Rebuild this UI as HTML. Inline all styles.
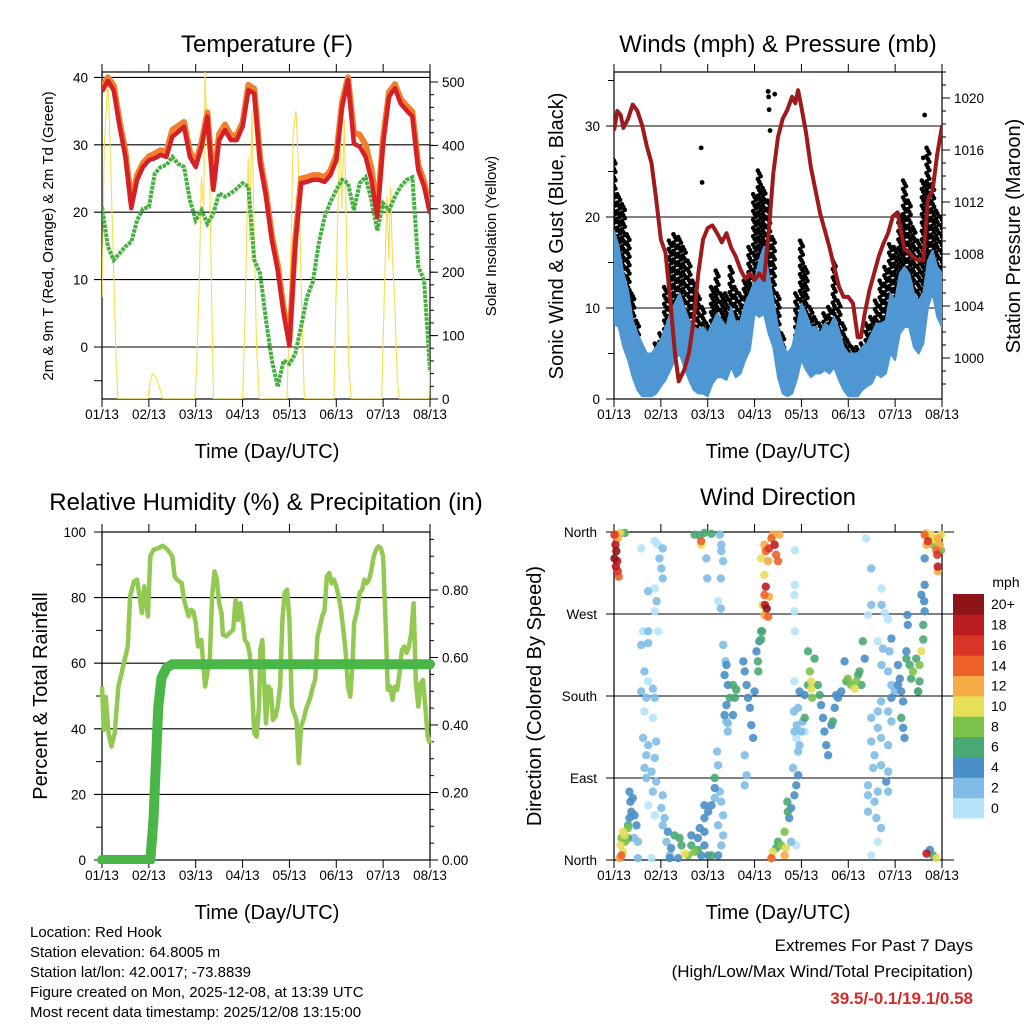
<!DOCTYPE html>
<html><head><meta charset="utf-8">
<style>
html,body{margin:0;padding:0;background:#fff;}
svg{display:block;font-family:"Liberation Sans",sans-serif;}
</style></head>
<body>
<svg id="fig" width="1024" height="1024" viewBox="0 0 1024 1024" xmlns="http://www.w3.org/2000/svg">
<defs>
<clipPath id="cT"><rect x="102" y="72" width="328" height="327"/></clipPath>
<clipPath id="cW"><rect x="614" y="72" width="328" height="327"/></clipPath>
<clipPath id="cR"><rect x="96" y="528" width="340" height="336"/></clipPath>
<clipPath id="cD"><rect x="608" y="526" width="340" height="340"/></clipPath>
</defs>
<g id="titles">
<text x="267" y="52" font-size="24" text-anchor="middle">Temperature (F)</text>
<text x="778" y="52" font-size="24" text-anchor="middle">Winds (mph) &amp; Pressure (mb)</text>
<text x="266" y="510" font-size="24" text-anchor="middle">Relative Humidity (%) &amp; Precipitation (in)</text>
<text x="778" y="505" font-size="24" text-anchor="middle">Wind Direction</text>
<text x="267" y="458" font-size="20" text-anchor="middle">Time (Day/UTC)</text>
<text x="778" y="458" font-size="20" text-anchor="middle">Time (Day/UTC)</text>
<text x="267" y="919" font-size="20" text-anchor="middle">Time (Day/UTC)</text>
<text x="778" y="919" font-size="20" text-anchor="middle">Time (Day/UTC)</text>
<text transform="translate(53,236) rotate(-90)" font-size="15" text-anchor="middle">2m &amp; 9m T (Red, Orange) &amp; 2m Td (Green)</text>
<text transform="translate(496,236) rotate(-90)" font-size="15" text-anchor="middle">Solar Insolation (Yellow)</text>
<text transform="translate(563,236) rotate(-90)" font-size="20" text-anchor="middle">Sonic Wind &amp; Gust (Blue, Black)</text>
<text transform="translate(1020,236) rotate(-90)" font-size="20" text-anchor="middle">Station Pressure (Maroon)</text>
<text transform="translate(47,696) rotate(-90)" font-size="20" text-anchor="middle">Percent &amp; Total Rainfall</text>
<text transform="translate(541,696) rotate(-90)" font-size="20" text-anchor="middle">Direction (Colored By Speed)</text>
</g>
<g font-size="15">
<text x="30" y="937">Location: Red Hook</text>
<text x="30" y="957">Station elevation: 64.8005 m</text>
<text x="30" y="977">Station lat/lon: 42.0017; -73.8839</text>
<text x="30" y="997">Figure created on Mon, 2025-12-08, at 13:39 UTC</text>
<text x="30" y="1017">Most recent data timestamp: 2025/12/08 13:15:00</text>
</g>
<g text-anchor="end" font-size="17">
<text x="973" y="951">Extremes For Past 7 Days</text>
<text x="973" y="977">(High/Low/Max Wind/Total Precipitation)</text>
<text x="973" y="1004" fill="#d42a2a" font-weight="bold">39.5/-0.1/19.1/0.58</text>
</g>
<g id="layer"></g>
</svg>
<script>
// ---------- DATA ----------
const dayLabels = ["01/13","02/13","03/13","04/13","05/13","06/13","07/13","08/13"];
const tempStep = 0.125;
const tempRed = [37.9,39.5,38.1,32.7,28.2,20.6,24.8,26.7,27.7,28,28.5,28.2,31.2,31.9,32.7,28.2,26.7,29.7,34.2,23.3,30.7,32.2,30.7,30.7,32.7,38.1,37.6,27.2,22.3,15.8,11.4,5,0.2,15.3,24.3,24.5,24.8,24.8,24.5,25.5,27.7,35.6,39.6,30.2,29.7,28.2,24.8,19.3,30.2,37.1,38.4,36.1,35.1,34.2,26.2,23.8,19.8];
const tempOrange = [38.6,40,38.8,33.5,29,21.5,25.5,27.3,28.3,28.7,29.2,29,32.2,32.8,33.4,29,27.4,30.4,34.8,24,31.6,33,31.4,31.4,33.3,38.9,38.3,28,23,16.5,12.2,5.8,1,16,25,25.2,25.5,25.5,25.2,26.2,28.5,36.4,40,31.8,31.5,30,26.5,20.2,31,37.8,39,36.8,35.8,34.9,27,24.6,20.3];
const dewGreen = [20.8,14.9,12.9,13.9,14.9,15.6,18.8,20.5,20.8,25.7,26.7,27,28.2,27.2,26.7,21.8,18.8,20.3,18.3,19.8,22.8,22.3,22.8,23.5,24.3,23.8,12.9,10.9,4,-2,-5.9,-2,-2.5,-1,3,7.4,9.7,15.3,19.3,21.5,23.3,24.8,24.3,20.3,24.3,25.2,21.8,17.3,21.3,20.3,22.3,23.8,24.8,25.2,11.9,9.9,-3.5];
const solarTime = [0,0.05,0.1,0.13,0.16,0.2,0.25,0.3,0.34,0.98,1.03,1.08,1.15,1.22,1.3,1.98,2.02,2.08,2.12,2.17,2.2,2.24,2.28,2.33,2.38,3.0,3.06,3.12,3.15,3.2,3.25,3.3,3.36,3.95,4.02,4.08,4.14,4.2,4.26,4.32,4.95,5.02,5.08,5.12,5.17,5.22,5.27,5.32,5.97,6.02,6.08,6.12,6.16,6.2,6.25,6.3,6.35,6.98,7.0];
const solarValue = [160,400,470,500,430,330,200,60,0,0,30,40,35,20,0,0,50,200,350,300,520,400,450,200,0,0,150,380,250,455,250,80,0,0,200,420,455,350,150,0,0,250,440,300,440,250,50,0,0,150,320,220,335,220,150,30,0,0,60];
const windStep = 0.1;
const windHigh = [18.5,16.7,13.8,11.9,8.6,7.2,6.1,5,5,5.7,6.5,7.9,9.4,10.5,11.6,10.1,8.6,7.9,7.6,7.9,7.2,8.3,9.4,8.6,7.9,10.1,8.3,8.6,10.5,11.6,13,15.2,16.7,13.8,10.8,7.9,6.1,5,5.7,7.9,10.5,9.4,7.9,7.9,7.2,8.3,7.9,9,7.6,5.7,5,5,5,5.7,6.1,7.2,8.3,8.3,8.6,11.6,10.8,13.8,14.5,13.8,11.6,10.8,11.6,15.2,16.3,14.5,13.8];
const windLow = [8.3,7.9,5.7,4.3,2.4,1,0.3,0.3,0.3,0.6,1.4,2.1,3.2,4.3,5,3.5,2.1,1,0.6,0.6,0.3,1.7,2.4,2.4,2.1,3.5,2.4,2.8,4.3,5.4,9.4,9,9.4,7.2,5.7,2.4,0.6,0.3,0.6,2.1,4.3,3.2,2.4,2.8,2.8,3.2,2.8,3.5,2.1,1,0.3,0.3,0.3,1,1.4,1.7,2.8,2.4,2.8,5,4.3,7.2,7.9,7.9,5.7,5,6.1,10.1,11.6,9,7.9];
const gustHigh = [26.5,22.5,21.4,18.1,11.6,8.6,4.3,3.5,4.3,6.1,7.2,12.3,17.4,18.1,17.8,16.7,15.2,13,11.6,10.1,8.3,12.3,14.1,11.6,11.6,14.5,12.3,11.6,13,16.7,22.5,25.1,23.2,21.8,17.8,11.6,7.2,3.5,5,11.6,17.4,14.5,10.1,9,8.3,9.4,10.1,15.2,10.8,8.3,6.5,5.7,5.7,6.1,8.3,9,10.8,13,14.5,17,16.7,20.3,24,21.8,18.9,17.4,24,27.6,23.6,20.7,20];
const gustOutTime = [1.86,1.88,3.29,3.3,3.43,3.31,3.33,6.63,6.6];
const gustOutValue = [27.6,23.8,33.8,33.2,33.5,31.8,29.5,31.2,26.5];
const presTime = [0,0.07,0.14,0.2,0.3,0.4,0.5,0.6,0.7,0.8,0.9,1.0,1.1,1.2,1.3,1.38,1.5,1.6,1.7,1.8,1.9,2.0,2.1,2.2,2.3,2.4,2.5,2.6,2.7,2.8,2.9,3.0,3.1,3.2,3.3,3.4,3.5,3.6,3.7,3.8,3.87,3.93,4.0,4.1,4.2,4.3,4.4,4.5,4.6,4.7,4.8,4.9,5.0,5.1,5.2,5.27,5.35,5.45,5.55,5.65,5.75,5.85,5.95,6.05,6.12,6.2,6.3,6.4,6.5,6.6,6.7,6.8,6.9,7.0];
const presValue = [1017.5,1019,1018.7,1017.7,1018.4,1019.5,1019,1017.9,1016.3,1015,1012.2,1009.1,1008.1,1004.5,1000.4,998.2,999.1,1000.4,1002.9,1006.5,1009.1,1010,1010.2,1009.6,1008.9,1009.6,1008.5,1007.8,1006.8,1006.1,1006.5,1006,1006.5,1006,1009.6,1014.2,1017,1018.4,1019.1,1020.1,1019.6,1020.6,1019.3,1017.3,1014.7,1012.9,1011.1,1009.8,1008.5,1007,1005.5,1004.7,1004.7,1004.2,1001.6,1001.6,1003.4,1005.2,1006.5,1007.8,1008.8,1009.6,1010.9,1011.2,1009.8,1008.4,1008.1,1007.7,1007.5,1007.5,1012.2,1012.9,1015.7,1017.8];
const rhTime = [0,0.04,0.08,0.14,0.2,0.27,0.35,0.45,0.55,0.6,0.68,0.75,0.8,0.85,0.9,0.98,1.03,1.1,1.2,1.3,1.4,1.5,1.55,1.6,1.7,1.75,1.8,1.85,1.9,1.95,2.0,2.05,2.12,2.2,2.26,2.3,2.35,2.4,2.45,2.5,2.55,2.58,2.65,2.72,2.8,2.85,2.9,2.95,3.0,3.05,3.1,3.15,3.2,3.25,3.3,3.35,3.38,3.42,3.45,3.5,3.55,3.6,3.65,3.7,3.75,3.8,3.85,3.9,3.95,4.0,4.05,4.1,4.15,4.2,4.25,4.3,4.35,4.4,4.45,4.5,4.55,4.6,4.65,4.7,4.75,4.8,4.85,4.9,4.95,5.0,5.05,5.1,5.15,5.2,5.25,5.3,5.35,5.38,5.45,5.5,5.55,5.6,5.65,5.7,5.75,5.8,5.85,5.9,5.95,6.0,6.05,6.1,6.15,6.2,6.25,6.3,6.35,6.4,6.45,6.5,6.55,6.6,6.65,6.7,6.75,6.8,6.85,6.9,6.95,7.0];
const rhValue = [52.9,39.7,49.8,38.7,34.6,38.7,52.9,59,65.1,80.4,84.9,85.5,80.4,75.3,83.4,74.3,92.6,94.6,95.1,95.8,94.6,92.6,86.5,85.5,84.4,79.3,76.8,74.3,76.3,75.8,72.2,65.1,67.1,52.9,58,61,80.4,88,85.5,78.3,75.3,68.7,68.2,69.2,70.2,79.3,73.2,78.3,73.2,67.1,66.1,63.1,52.9,38.7,37.6,46.8,64.1,67.1,57,41.7,52.9,51.9,42.7,43.7,46.8,52.9,73.2,81.4,82.4,73.2,46.8,44.8,42.7,29.5,40.7,42.7,45.8,47.8,49.8,52.9,54.9,68.2,71.2,74.3,76.3,86.5,87.5,84.4,85.5,83.4,80.4,76.3,70.2,63.1,52.9,49.8,61,72.2,76.3,81.4,82.4,85.5,84.4,85.5,88.5,92.6,94.6,95.6,95.1,92.6,73.2,51.9,52.9,48.8,52.9,51.9,57,64.1,65.1,63.1,65.1,69.2,78.3,53.9,46.8,53.9,54.9,46.8,37.6,35.6];
const precipTime = [0,1.03,1.1,1.2,1.27,1.38,1.5,7.0];
const precipValue = [0,0,0.12,0.45,0.54,0.57,0.58,0.58];
const speedBins = ["0","2","4","6","8","10","12","14","16","18","20+"];
const speedColors = ["#b5e3f8","#80bce5","#4a8fc8","#4aa873","#7bc24b","#e6df5a","#f7ab45","#ee622a","#da3428","#bb1c22","#8d1519"];
// wind direction observations: [day, degrees, speed mph]
const windDirObs = [
[0.01,357,16],[0.03,346,18],[0.05,339,20],[0.01,331,20],[0.07,328,18],[0.04,322,18],[0.08,317,16],[0.1,311,14],[0.06,357,12],[0.12,359,10],[0.16,359,8],[0.23,359,6],[0.08,353,12],
[0.12,2,12],[0.16,5,14],[0.19,9,10],[0.14,16,10],[0.16,24,8],[0.23,27,10],[0.3,35,8],[0.19,31,10],[0.3,38,6],[0.24,20,8],[0.3,24,6],[0.33,46,4],[0.37,53,4],[0.35,64,4],[0.33,75,4],[0.4,68,4],[0.44,49,4],[0.48,38,4],[0.43,24,2],[0.51,20,2],[0.51,2,2],
[0.58,342,0],[0.87,350,0],[0.94,346,0],[1.04,342,2],[0.97,331,2],[1.01,320,2],[1.04,309,2],[0.87,298,0],[0.73,295,2],[0.91,284,2],[0.87,273,0],[0.62,251,0],[0.73,251,2],[0.94,251,0],[0.58,236,2],[0.73,238,2],[0.65,207,2],[0.73,196,0],[0.83,188,2],[0.58,185,2],[0.69,178,2],[0.87,178,2],[0.65,163,0],[0.83,156,0],[0.62,134,2],[0.73,126,2],[0.9,130,2],[0.69,115,2],[0.87,112,2],[0.65,101,2],[0.8,97,2],[0.69,90,2],[0.9,86,2],[0.83,75,2],[1.04,71,2],[0.73,60,0],[0.87,49,0],[1.01,57,2],[1.08,46,2],[1.04,38,2],[1.15,31,4],[1.12,20,2],[1.22,13,4],[1.19,5,2],[0.8,2,0],
[1.29,27,6],[1.4,24,6],[1.44,16,6],[1.51,7,10],[1.58,5,8],[1.65,16,6],[1.72,9,8],[1.79,11,6],[1.86,5,4],[1.93,16,4],[2.01,5,4],[2.08,5,6],[1.65,27,4],[1.79,24,4],[1.93,31,4],[1.93,46,4],[2.01,53,4],[2.08,60,4],[2.15,68,2],[2.15,79,4],[2.26,75,2],[2.29,64,2],[2.33,49,2],[2.22,38,2],[2.33,27,2],[2.29,16,2],[2.22,5,4],[1.37,2,4],[1.19,2,4],[1.93,60,4],[1.83,35,4],[2.15,90,6],[2.2,119,2],[2.22,104,2],
[1.72,357,6],[1.83,356,6],[1.86,350,14],[1.86,346,10],[1.93,359,6],[2.08,358,6],
[1.97,331,2],[1.99,309,2],[2.26,357,2],[2.29,346,2],[2.29,339,2],[2.33,328,2],[2.28,309,2],[2.22,284,0],[2.28,276,2],
[2.33,236,2],[2.4,214,4],[2.36,203,4],[2.43,192,4],[2.54,192,6],[2.61,187,6],[2.58,178,6],[2.47,178,6],[2.4,170,4],[2.36,159,4],[2.43,150,2],[2.54,159,4],[2.76,218,4],[2.79,207,4],[2.83,192,4],[2.86,178,4],[2.9,167,4],[2.93,148,4],[2.97,134,4],[3.0,185,4],[3.04,229,4],[3.07,218,6],[3.08,207,6],[3.1,240,4],[3.14,251,6],[2.38,218,2],[2.4,152,2],[2.43,141,2],[2.79,115,2],[2.83,93,2],[2.79,82,2],
[3.14,331,10],[3.21,346,12],[3.24,339,14],[3.31,342,16],[3.36,353,14],[3.43,346,18],[3.46,335,14],[3.5,328,14],[3.39,357,12],[3.53,357,12],[3.29,328,12],[3.21,313,10],[3.24,300,18],[3.21,291,14],[3.17,280,10],[3.22,280,18],[3.26,276,20],[3.29,267,14],[3.21,269,12],[3.31,289,12],[3.16,251,6],[3.14,242,6],
[3.36,2,14],[3.39,9,10],[3.46,13,6],[3.5,20,6],[3.57,16,8],[3.64,31,8],[3.67,13,10],[3.64,5,12],[3.71,53,6],[3.7,64,6],[3.74,46,4],[3.78,57,4],[3.85,71,4],[3.89,82,4],[3.93,93,4],[3.82,101,2],[3.93,119,2],[3.96,126,2],[3.89,134,0],[3.85,141,2],[3.84,163,2],[3.93,167,2],[3.96,185,4],[3.85,196,0],[3.86,251,0],[3.85,273,0],[3.85,291,0],[3.86,302,0],[3.86,340,0],[3.78,20,2],[3.89,16,0],[3.36,2,10],
[4.07,181,4],[4.14,192,6],[4.14,229,6],[4.18,207,8],[4.21,196,10],[4.21,188,10],[4.23,178,8],[4.28,221,6],[4.35,192,6],[4.39,181,6],[4.07,156,6],[4.42,170,4],[4.46,156,4],[4.49,141,4],[4.53,126,4],[4.57,115,4],[4.64,148,4],[4.67,152,6],[4.71,167,4],[4.74,181,4],[4.78,178,4],[4.85,185,4],[4.92,218,4],[4.96,196,6],[4.99,199,8],[5.06,192,8],[5.14,188,10],[5.17,196,8],[5.21,203,6],[5.24,207,6],[5.28,192,6],[5.31,240,6],[5.35,221,4],[4.03,152,2],[4.0,141,2],[4.07,141,0],[3.9,148,2],
[5.38,353,0],[5.49,320,2],[5.71,298,0],[5.49,280,2],[5.71,280,2],[5.42,269,0],[5.78,271,0],[5.85,264,0],[5.63,240,0],[5.74,232,2],[5.92,243,4],[5.88,229,2],[5.71,214,2],[5.85,207,2],[5.92,192,2],[5.99,185,2],[5.7,174,2],[5.49,156,2],[5.63,163,2],[5.85,163,2],[5.92,152,2],[5.63,145,2],[5.49,130,2],[5.7,134,2],[5.85,126,2],[5.56,115,2],[5.7,104,2],[5.53,101,2],[5.85,97,2],[5.81,86,4],[5.42,82,2],[5.63,75,2],[5.85,75,2],[5.42,53,2],[5.6,46,2],[5.7,35,2],[5.63,20,0],[5.49,5,0],[5.42,71,2],[5.56,64,2],
[6.06,214,4],[6.1,199,4],[6.13,185,4],[6.17,174,4],[6.13,156,6],[6.17,145,4],[6.2,134,4],[6.24,229,4],[6.27,258,4],[6.26,269,4],[6.24,221,6],[6.31,214,6],[6.34,199,6],[6.38,207,8],[6.45,221,6],[6.52,214,8],[6.56,229,10],[6.52,196,6],[6.49,185,6],[6.6,242,6],[6.6,258,6],[6.56,291,4],[6.63,273,4],[6.62,284,4],[6.63,302,4],[6.63,331,4],[6.49,185,4],[6.06,192,4],[5.92,178,4],
[6.63,357,14],[6.67,346,12],[6.7,350,16],[6.74,353,8],[6.77,357,10],[6.84,352,10],[6.91,353,12],[6.95,346,12],[6.88,340,14],[6.9,335,16],[6.91,322,18],[6.91,317,12],[6.81,346,8],[6.98,357,10],[6.98,340,8],[6.67,359,10],
[6.67,7,18],[6.74,11,4],[6.81,5,6],[6.88,2,10]
];
</script>
<script>
(function(){
const NS="http://www.w3.org/2000/svg";
const layer=document.getElementById('layer');
function el(tag,attrs,parent){const e=document.createElementNS(NS,tag);for(const k in attrs)e.setAttribute(k,attrs[k]);(parent||layer).appendChild(e);return e;}
const PW=328, DAYPX=328/7;
const xTemp=t=>102+t*DAYPX, xWind=t=>614+t*DAYPX;
const yTemp=v=>347-v*6.74;
const ySolar=v=>399-v*0.634;
const yWind=v=>399-v*9.1;
const yPres=p=>98+(1020-p)*13;
const yRH=v=>860-v*3.28;
const yPrecip=v=>860-v*337.5;
const yDir=d=>860-d*328/360;

function frame(left,top,bottom,name){
  const g=el('g',{});
  
  
  el('rect',{x:left,y:top,width:PW,height:bottom-top,fill:'none',stroke:'#000','stroke-width':1.2},g);
  dayLabels.forEach((lab,i)=>{
    const x=left+i*DAYPX;
    el('line',{x1:x,x2:x,y1:top-8,y2:top,stroke:'#000','stroke-width':1},g);
    el('line',{x1:x,x2:x,y1:bottom,y2:bottom+8,stroke:'#000','stroke-width':1},g);
    const t=el('text',{x:x,y:bottom+20,'font-size':13.5,'text-anchor':'middle'},g);
    t.textContent=lab;
    
    
  });
  return g;
}
function hGrid(g,left,y,labelL,labelX){
  el('line',{x1:left-8,x2:left+PW,y1:y,y2:y,stroke:'#000','stroke-width':1.1},g);
  if(labelL!==null){const t=el('text',{x:labelX,y:y+5,'font-size':13.5,'text-anchor':'end'},g);t.textContent=labelL;
    
    }
}
function rTicks(g,right,vals,yf,fmt,minorVals){
  minorVals.forEach(v=>{const y=yf(v);el('line',{x1:right,x2:right+4,y1:y,y2:y,stroke:'#000'},g);});
  vals.forEach(v=>{const y=yf(v);el('line',{x1:right,x2:right+8,y1:y,y2:y,stroke:'#000'},g);
    const t=el('text',{x:right+12,y:y+5,'font-size':13.5},g);t.textContent=fmt(v);
    
    });
}
function pathFrom(xs,ys){return xs.map((x,i)=>(i?'L':'M')+x.toFixed(1)+' '+ys[i].toFixed(1)).join('');}
const range=(n,f)=>Array.from({length:n},(_,i)=>f(i));

// ---------- Panel 1: Temperature ----------
let g=frame(102,72,399,'temperature-panel');
[40,30,20,10,0].forEach(v=>hGrid(g,102,yTemp(v),String(v),88));
el('line',{x1:94,x2:102,y1:yTemp(-5),y2:yTemp(-5),stroke:'#000'},g);
rTicks(g,430,[0,100,200,300,400,500],ySolar,v=>String(v),range(26,i=>i*20));
let pg=el('g',{'clip-path':'url(#cT)'});


let p=el('path',{d:pathFrom(solarTime.map(xTemp),solarValue.map(ySolar)),fill:'none',stroke:'#f7de4a','stroke-width':1.1},pg);


p=el('path',{d:pathFrom(dewGreen.map((v,i)=>xTemp(i*tempStep)),dewGreen.map(yTemp)),fill:'none',stroke:'#45b040','stroke-width':4,'stroke-dasharray':'3.5 1'},pg);


p=el('path',{d:pathFrom(tempOrange.map((v,i)=>xTemp(i*tempStep)),tempOrange.map(yTemp)),fill:'none',stroke:'#f27f2c','stroke-width':6,'stroke-linejoin':'round'},pg);


p=el('path',{d:pathFrom(tempRed.map((v,i)=>xTemp(i*tempStep)),tempRed.map(yTemp)),fill:'none',stroke:'#d42027','stroke-width':4.5,'stroke-linejoin':'round'},pg);



// ---------- Panel 2: Winds ----------
g=frame(614,72,399,'winds-panel');
[30,20,10].forEach(v=>hGrid(g,614,yWind(v),String(v),600));
hGrid(g,614,yWind(0),'0',600);
[5,15,25,35].forEach(v=>el('line',{x1:608,x2:614,y1:yWind(v),y2:yWind(v),stroke:'#000'},g));
rTicks(g,942,[1000,1004,1008,1012,1016,1020],yPres,v=>String(v),range(25,i=>998+i));
pg=el('g',{'clip-path':'url(#cW)'});


gustHigh.forEach((gv,i)=>{
  const x=xWind(i*windStep);
  const yTop=yWind(gv), yBot=yWind(Math.max(windLow[i],windHigh[i]-3));
  let k=0;
  for(let y=yTop;y<=yBot;y+=2.8){
    const c=el('circle',{cx:x+((k%3)-1)*1.4,cy:y,r:2.3,fill:'#000'},pg);
    
    
    k++;
  }
});
gustOutTime.forEach((t,i)=>{
  const c=el('circle',{cx:xWind(t),cy:yWind(gustOutValue[i]),r:2.4,fill:'#000'},pg);
  
  
});
const bandTop=windHigh.map((v,i)=>xWind(i*windStep).toFixed(1)+','+yWind(v).toFixed(1));
const bandBot=windLow.map((v,i)=>xWind(i*windStep).toFixed(1)+','+yWind(v).toFixed(1)).reverse();
p=el('polygon',{points:bandTop.concat(bandBot).join(' '),fill:'#4f97d2',stroke:'#4f97d2','stroke-width':2,'stroke-linejoin':'round'},pg);


p=el('path',{d:pathFrom(presTime.map(xWind),presValue.map(yPres)),fill:'none',stroke:'#9d1b1e','stroke-width':4,'stroke-linejoin':'round'},pg);



// ---------- Panel 3: RH & Precip ----------
g=frame(102,532,860,'humidity-panel');
[100,80,60,40,20,0].forEach(v=>hGrid(g,102,yRH(v),String(v),86));
[90,70,50,30,10].forEach(v=>el('line',{x1:96,x2:102,y1:yRH(v),y2:yRH(v),stroke:'#000'},g));
rTicks(g,430,[0,0.2,0.4,0.6,0.8],yPrecip,v=>v.toFixed(2),range(20,i=>i*0.05));
pg=el('g',{'clip-path':'url(#cR)'});


p=el('path',{d:pathFrom(rhTime.map(xTemp),rhValue.map(yRH)),fill:'none',stroke:'#93c952','stroke-width':4.5,'stroke-linejoin':'round'},pg);


p=el('path',{d:pathFrom(precipTime.map(xTemp),precipValue.map(yPrecip)),fill:'none',stroke:'#4ab648','stroke-width':10,'stroke-linejoin':'round','stroke-linecap':'round'},pg);



// ---------- Panel 4: Wind Direction ----------
g=frame(614,532,860,'wind-direction-panel');
[[360,'North'],[270,'West'],[180,'South'],[90,'East'],[0,'North']].forEach(d=>{
  const y=yDir(d[0]);
  el('line',{x1:606,x2:954,y1:y,y2:y,stroke:'#000','stroke-width':1.1},g);
  const t=el('text',{x:597,y:y+5,'font-size':13.5,'text-anchor':'end'},g);t.textContent=d[1];
  
  
});
pg=el('g',{'clip-path':'url(#cD)'});


const binOf=s=>Math.min(10,Math.floor(s/2));
windDirObs.slice().sort((a,b)=>a[2]-b[2]).forEach(o=>{
  const c=el('circle',{cx:xWind(o[0]),cy:yDir(o[1]),r:4.2,fill:speedColors[binOf(o[2])],'fill-opacity':0.9},pg);
  
  
});
const lg=el('g',{});


const cbTop=594, cbH=224/11;
const tt=el('text',{x:1006,y:587,'font-size':14,'text-anchor':'middle'},lg);tt.textContent='mph';


speedBins.forEach((lab,i)=>{
  const j=10-i; const y=cbTop+j*cbH;
  const r=el('rect',{x:953,y:y,width:31,height:cbH+0.5,fill:speedColors[i]},lg);
  
  
  const t=el('text',{x:991,y:y+cbH/2+5,'font-size':14},lg);t.textContent=lab;
  
  
});
})();
</script>
</body></html>
